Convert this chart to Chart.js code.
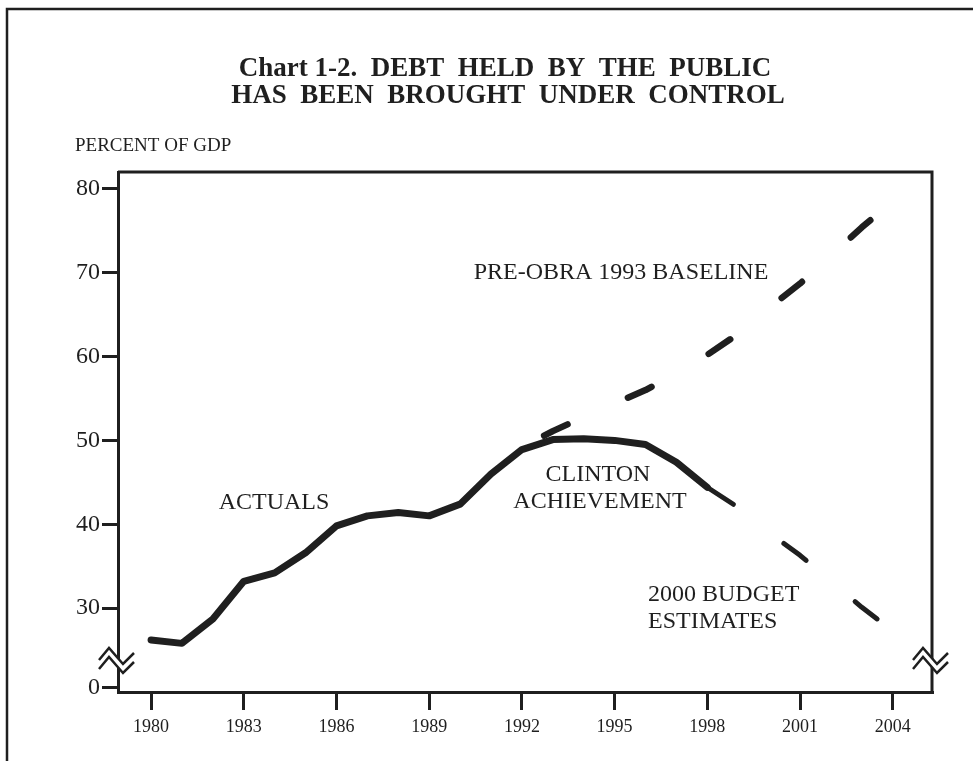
<!DOCTYPE html>
<html>
<head>
<meta charset="utf-8">
<title>Chart 1-2. Debt held by the public</title>
<script src="https://cdn.jsdelivr.net/npm/chart.js@4.4.1/dist/chart.umd.min.js"></script>
<style>
  body { margin: 0; background: #fff; overflow: hidden; }
  canvas { display: block; }
</style>
</head>
<body>
<canvas id="debtChart" width="973" height="761"></canvas>
<script>
// data (percent of GDP)
const actualYears = [1980, 1981, 1982, 1983, 1984, 1985, 1986, 1987, 1988, 1989, 1990, 1991, 1992, 1993, 1994, 1995, 1996, 1997, 1998];
const actualValues = [26.2, 25.8, 28.7, 33.2, 34.2, 36.6, 39.8, 41.0, 41.4, 41.0, 42.4, 46.0, 48.9, 50.1, 50.2, 50.0, 49.5, 47.4, 44.4];

const baselineYears = [1992, 1993, 1994, 1995, 1996, 1997, 1998, 1999, 2000, 2001, 2002, 2003, 2004];
const baselineValues = [49.2, 51.1, 52.8, 54.4, 56.0, 58.0, 60.2, 62.7, 65.8, 68.7, 72.0, 75.4, 78.5];

const estimateYears = [1998, 1999, 2000, 2001, 2002, 2003, 2004];
const estimateValues = [44.4, 42.0, 39.0, 36.3, 33.2, 30.1, 27.3];

const xTickValues = [1980, 1983, 1986, 1989, 1992, 1995, 1998, 2001, 2004];
const yTickValues = [20.5, 30, 40, 50, 60, 70, 80];
const yTickLabels = ['0', '30', '40', '50', '60', '70', '80'];

const titleLines = ['Chart 1-2.  DEBT  HELD  BY  THE  PUBLIC', 'HAS  BEEN  BROUGHT  UNDER  CONTROL'];
const unitLabel = 'PERCENT OF GDP';

const ink = '#1f1f1f';
const serif = '"Liberation Serif", "Times New Roman", serif';

function toPoints(xs, ys) {
    return xs.map(function (x, i) { return { x: x, y: ys[i] }; });
}

// axis break mark, two zigzags with the axis blanked between them
function drawBreak(ctx, ax, ay) {
    var pts = [[-19, 0], [-9, -12], [5, 4], [16, -7]];
    var gap = 9;
    ctx.save();
    ctx.fillStyle = '#fff';
    ctx.beginPath();
    pts.forEach(function (p, i) {
        if (i === 0) ctx.moveTo(ax + p[0], ay + p[1]);
        else ctx.lineTo(ax + p[0], ay + p[1]);
    });
    for (var i = pts.length - 1; i >= 0; i--) ctx.lineTo(ax + pts[i][0], ay + pts[i][1] + gap);
    ctx.closePath();
    ctx.fill();
    ctx.strokeStyle = ink;
    ctx.lineWidth = 2.5;
    [0, gap].forEach(function (off) {
        ctx.beginPath();
        pts.forEach(function (p, i) {
            if (i === 0) ctx.moveTo(ax + p[0], ay + p[1] + off);
            else ctx.lineTo(ax + p[0], ay + p[1] + off);
        });
        ctx.stroke();
    });
    ctx.restore();
}

const decorPlugin = {
    id: 'decor',
    afterDraw: function (chart) {
        var ctx = chart.ctx;
        var area = chart.chartArea;
        ctx.save();

        // outer frame (right and bottom edges fall outside the picture)
        ctx.strokeStyle = ink;
        ctx.lineWidth = 2.5;
        ctx.beginPath();
        ctx.moveTo(7, 761);
        ctx.lineTo(7, 9);
        ctx.lineTo(973, 9);
        ctx.stroke();

        // top and right of the plot box
        ctx.lineWidth = 3;
        ctx.beginPath();
        ctx.moveTo(area.left, area.top);
        ctx.lineTo(area.right, area.top);
        ctx.lineTo(area.right, area.bottom);
        ctx.stroke();

        // title
        ctx.fillStyle = ink;
        ctx.textAlign = 'center';
        ctx.textBaseline = 'middle';
        ctx.font = 'bold 27px ' + serif;
        ctx.fillText(titleLines[0], 505, 69);
        ctx.fillText(titleLines[1], 508, 96);

        ctx.textAlign = 'left';
        ctx.font = '19px ' + serif;
        ctx.fillText(unitLabel, 75, 146);

        // series labels
        ctx.font = '24px ' + serif;
        ctx.textAlign = 'center';
        ctx.fillText('ACTUALS', 274, 503);
        ctx.fillText('PRE-OBRA 1993 BASELINE', 621, 273);
        ctx.fillText('CLINTON', 598, 475);
        ctx.fillText('ACHIEVEMENT', 600, 502);
        ctx.textAlign = 'left';
        ctx.fillText('2000 BUDGET', 648, 595);
        ctx.fillText('ESTIMATES', 648, 622);

        drawBreak(ctx, area.left, 660);
        drawBreak(ctx, area.right, 660);
        ctx.restore();
    }
};

const tickFont = { family: serif };

new Chart(document.getElementById('debtChart'), {
    type: 'line',
    data: {
        datasets: [{
            label: 'Pre-OBRA 1993 baseline',
            data: toPoints(baselineYears, baselineValues),
            borderColor: ink,
            borderWidth: 6.5,
            borderDash: [26, 66],
            borderDashOffset: 67,
            borderCapStyle: 'round'
        }, {
            label: '2000 budget estimates',
            data: toPoints(estimateYears, estimateValues),
            borderColor: ink,
            borderWidth: 5,
            borderDash: [28, 64],
            borderDashOffset: -3,
            borderCapStyle: 'round'
        }, {
            label: 'Actuals',
            data: toPoints(actualYears, actualValues),
            borderColor: ink,
            borderWidth: 7,
            borderCapStyle: 'round'
        }]
    },
    options: {
        responsive: false,
        devicePixelRatio: 1,
        animation: false,
        layout: { padding: { top: 172, left: 0, right: 41, bottom: 0 } },
        elements: {
            point: { radius: 0 },
            line: { tension: 0, borderJoinStyle: 'round', fill: false }
        },
        plugins: {
            legend: { display: false },
            tooltip: { enabled: false }
        },
        scales: {
            x: {
                type: 'linear',
                min: 1978.93,
                max: 2005.27,
                afterBuildTicks: function (scale) {
                    scale.ticks = xTickValues.map(function (v) { return { value: v }; });
                },
                afterFit: function (scale) { scale.height = 69; },
                ticks: {
                    callback: function (value) { return String(value); },
                    font: { family: serif, size: 18 },
                    color: ink,
                    padding: 6,
                    maxRotation: 0,
                    autoSkip: false
                },
                grid: { drawOnChartArea: false, drawTicks: true, tickLength: 18, lineWidth: 3, color: ink },
                border: { display: true, width: 3, color: ink }
            },
            y: {
                type: 'linear',
                min: 20,
                max: 82,
                afterBuildTicks: function (scale) {
                    scale.ticks = yTickValues.map(function (v) { return { value: v }; });
                },
                afterFit: function (scale) { scale.width = 118; },
                ticks: {
                    callback: function (value, index) { return yTickLabels[index]; },
                    font: { family: serif, size: 24 },
                    color: ink,
                    padding: 2,
                    autoSkip: false
                },
                grid: { drawOnChartArea: false, drawTicks: true, tickLength: 16, lineWidth: 3, color: ink },
                border: { display: true, width: 3, color: ink }
            }
        }
    },
    plugins: [decorPlugin]
});
</script>
</body>
</html>
